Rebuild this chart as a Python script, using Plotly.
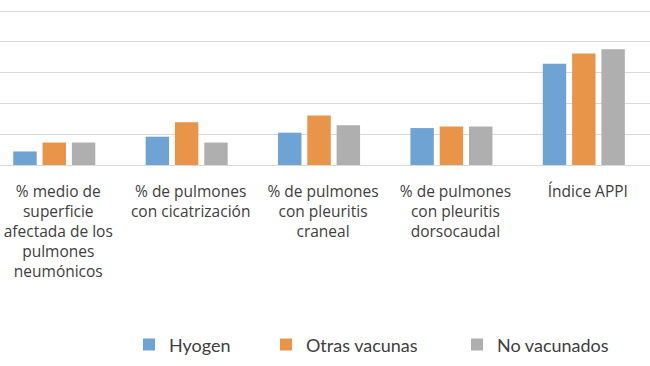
import plotly.graph_objects as go

categories = [
    "% medio de<br>superficie<br>afectada de los<br>pulmones<br>neumónicos",
    "% de pulmones<br>con cicatrización",
    "% de pulmones<br>con pleuritis<br>craneal",
    "% de pulmones<br>con pleuritis<br>dorsocaudal",
    "Índice APPI",
]
series_names = ["Hyogen", "Otras vacunas", "No vacunados"]
hyogen = [4.4, 9.2, 10.5, 12.0, 32.9]
otras_vacunas = [7.3, 13.9, 16.1, 12.5, 36.2]
no_vacunados = [7.3, 7.3, 12.9, 12.5, 37.6]
colors = ["#6fa3d3", "#e8954a", "#afafaf"]

values = [hyogen, otras_vacunas, no_vacunados]
legend_ids = ["legend", "legend2", "legend3"]

W, H = 650, 366
legend_x = [129 / W, 266 / W, 457 / W]

fig = go.Figure()
for name, vals, col, lid in zip(series_names, values, colors, legend_ids):
    fig.add_trace(go.Bar(
        x=list(range(len(categories))), y=vals, name=name,
        marker=dict(color=col, line=dict(width=0)),
        legend=lid,
    ))

legend_font = "Lato, 'Open Sans', sans-serif"
tick_font = "'Open Sans', Lato, sans-serif"
legend_common = dict(
    orientation="h", yanchor="middle", y=-1.146, xanchor="left",
    font=dict(family=legend_font, size=18, color="#404040"),
    bgcolor="rgba(0,0,0,0)", itemclick=False,
)
layout_legends = {}
for lid, lx in zip(legend_ids, legend_x):
    d = dict(legend_common)
    d["x"] = lx
    layout_legends[lid] = d

fig.update_layout(
    width=W, height=H,
    margin=dict(l=0, r=0, t=8, b=201, autoexpand=False),
    paper_bgcolor="white", plot_bgcolor="white",
    barmode="group", bargap=0.336, bargroupgap=0.2,
    showlegend=True,
    xaxis=dict(
        tickmode="array", tickvals=list(range(len(categories))), ticktext=categories,
        range=[-0.41, 4.5], showgrid=False, zeroline=False,
        ticks="outside", ticklen=12, tickcolor="rgba(0,0,0,0)",
        tickfont=dict(family=tick_font, size=15.5, color="#404040"),
        ticklabeloverflow="allow", ticklabelshift=4,
        showline=False,
    ),
    yaxis=dict(
        range=[0, 51], dtick=10, showticklabels=False,
        showgrid=True, gridcolor="#d9d9d9", gridwidth=1,
        zeroline=True, zerolinecolor="#d9d9d9", zerolinewidth=1,
    ),
    **layout_legends,
)

fig.write_html(
    "out.html",
    config={"displayModeBar": False},
    post_script="document.body.style.margin='0';",
)
